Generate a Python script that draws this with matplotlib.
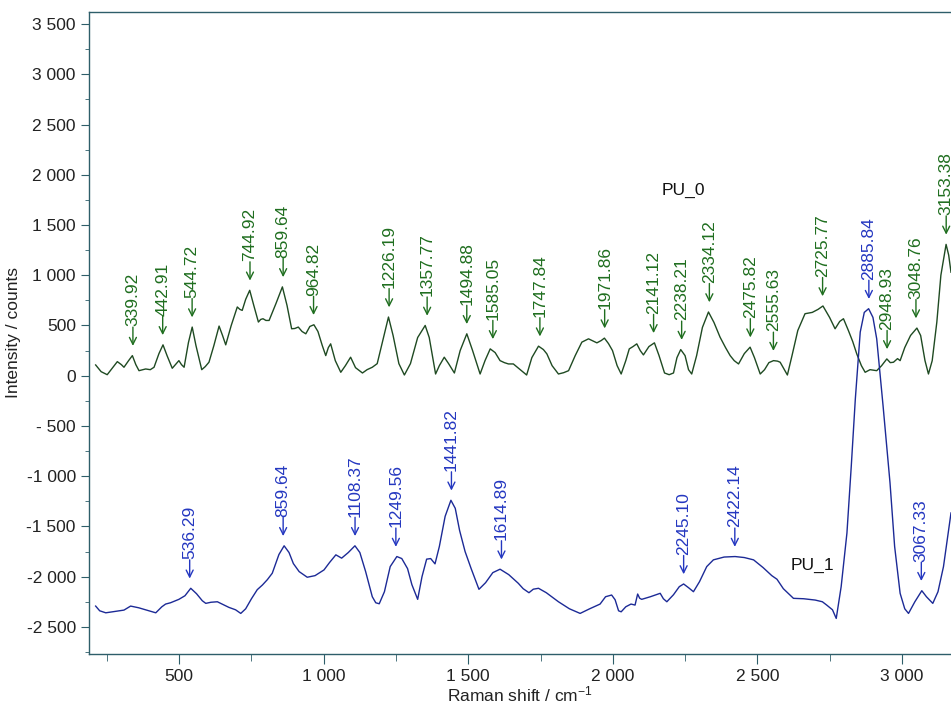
import numpy as np
import matplotlib
matplotlib.use("Agg")
import matplotlib.pyplot as plt
from matplotlib.ticker import MultipleLocator, FuncFormatter

plt.rcParams['font.family'] = ['Liberation Sans', 'DejaVu Sans']
plt.rcParams['mathtext.fontset'] = 'custom'
plt.rcParams['mathtext.rm'] = 'Liberation Sans'
plt.rcParams['mathtext.it'] = 'Liberation Sans:italic'

# PU_0 spectrum (Raman shift, counts)
pu0_x = [211, 230, 251, 270, 286, 300, 309, 325, 338, 350, 361, 384, 400, 413,
         430, 444, 458, 476, 490, 499, 508, 517, 532, 545, 558, 578, 590, 603,
         620, 638, 650, 661, 680, 701, 710, 718, 730, 744, 758, 774, 782, 790,
         800, 811, 835, 857, 873, 889, 900, 912, 925, 938, 952, 966, 980, 995,
         1007, 1016, 1024, 1040, 1059, 1075, 1093, 1110, 1134, 1150, 1168, 1185,
         1200, 1224, 1240, 1260, 1279, 1300, 1325, 1351, 1365, 1387, 1400, 1417,
         1432, 1452, 1472, 1495, 1515, 1541, 1558, 1576, 1593, 1610, 1625, 1639,
         1656, 1680, 1702, 1720, 1743, 1760, 1772, 1790, 1812, 1830, 1847, 1870,
         1893, 1916, 1945, 1960, 1971, 1985, 1999, 2015, 2029, 2045, 2057, 2070,
         2083, 2095, 2106, 2125, 2144, 2160, 2179, 2195, 2210, 2222, 2235, 2250,
         2262, 2273, 2290, 2310, 2331, 2350, 2371, 2390, 2406, 2420, 2435, 2455,
         2475, 2490, 2510, 2525, 2540, 2556, 2570, 2579, 2604, 2620, 2640, 2665,
         2690, 2710, 2727, 2750, 2769, 2785, 2798, 2815, 2830, 2844, 2860, 2873,
         2890, 2913, 2930, 2948, 2960, 2971, 2985, 2994, 3010, 3030, 3052, 3065,
         3080, 3092, 3105, 3121, 3135, 3153, 3162, 3170]
pu0_y = [107, 40, 10, 80, 140, 110, 84, 150, 200, 110, 50, 67, 60, 84,
         220, 307, 200, 74, 120, 150, 110, 84, 330, 484, 300, 60, 90, 134,
         300, 494, 400, 307, 500, 684, 660, 650, 760, 850, 700, 534, 560, 567,
         550, 550, 720, 884, 700, 467, 470, 484, 440, 417, 490, 507, 440, 300,
         200, 280, 317, 150, 34, 100, 184, 80, 27, 60, 84, 120,
         300, 584, 400, 120, 7, 120, 380, 500, 380, 17, 100, 184,
         120, 27, 250, 417, 250, 17, 150, 267, 230, 150, 130, 117,
         117, 60, 7, 180, 294, 260, 217, 100, 17, 30, 50, 200,
         334, 367, 327, 350, 374, 320, 250, 100, 17, 150, 267, 290,
         317, 250, 207, 290, 327, 200, 27, 10, 27, 180, 260, 200,
         60, 17, 200, 480, 634, 530, 384, 280, 200, 150, 117, 220,
         284, 180, 17, 60, 130, 150, 145, 134, 7, 200, 450, 617,
         630, 660, 694, 580, 467, 540, 567, 450, 340, 217, 100, 34,
         60, 50, 100, 167, 130, 134, 170, 150, 280, 400, 474, 400,
         150, 17, 150, 534, 1000, 1307, 1200, 1030]

# PU_1 spectrum (offset downwards)
pu1_x = [211, 225, 246, 280, 309, 332, 360, 390, 419, 440, 453, 470, 499, 520,
         540, 560, 580, 592, 610, 632, 650, 672, 695, 713, 730, 750, 770, 788,
         805, 822, 845, 863, 880, 895, 915, 943, 970, 1001, 1020, 1042, 1062,
         1085, 1108, 1125, 1145, 1168, 1180, 1192, 1210, 1230, 1253, 1270, 1290,
         1305, 1325, 1340, 1356, 1370, 1385, 1400, 1420, 1440, 1455, 1470, 1489,
         1510, 1537, 1560, 1585, 1610, 1640, 1673, 1690, 1710, 1725, 1743, 1770,
         1812, 1850, 1887, 1920, 1956, 1975, 1996, 2008, 2020, 2029, 2045, 2063,
         2077, 2086, 2093, 2100, 2130, 2164, 2175, 2187, 2210, 2230, 2245, 2262,
         2279, 2300, 2325, 2348, 2385, 2423, 2455, 2487, 2520, 2550, 2568, 2590,
         2625, 2660, 2700, 2725, 2740, 2760, 2773, 2790, 2810, 2825, 2839, 2856,
         2870, 2885, 2900, 2913, 2935, 2959, 2975, 2994, 3010, 3023, 3045, 3069,
         3085, 3107, 3125, 3144, 3170]
pu1_y = [-2293, -2340, -2360, -2345, -2333, -2293, -2310, -2335, -2360, -2300,
         -2273, -2260, -2226, -2190, -2116, -2170, -2240, -2266, -2255, -2250,
         -2275, -2306, -2330, -2366, -2320, -2220, -2130, -2083, -2030, -1966,
         -1780, -1693, -1760, -1870, -1950, -2006, -1990, -1933, -1860, -1783,
         -1816, -1760, -1693, -1760, -1950, -2200, -2260, -2270, -2150, -1900,
         -1800, -1820, -1920, -2080, -2226, -2000, -1826, -1820, -1873, -1700,
         -1400, -1240, -1320, -1540, -1750, -1920, -2126, -2060, -1960, -1926,
         -1980, -2066, -2120, -2160, -2125, -2116, -2160, -2250, -2320, -2366,
         -2320, -2273, -2200, -2183, -2230, -2340, -2350, -2300, -2273, -2283,
         -2173, -2215, -2226, -2200, -2166, -2220, -2250, -2180, -2100, -2073,
         -2110, -2150, -2050, -1900, -1833, -1805, -1800, -1810, -1833, -1910,
         -1990, -2026, -2120, -2216, -2220, -2233, -2250, -2283, -2330, -2416,
         -2100, -1566, -900, -233, 434, 630, 667, 580, 367, -300, -1066, -1700,
         -2166, -2320, -2366, -2250, -2140, -2200, -2266, -2150, -1900, -1366]

pu0_peaks = [339.92, 442.91, 544.72, 744.92, 859.64, 964.82, 1226.19, 1357.77,
             1494.88, 1585.05, 1747.84, 1971.86, 2141.12, 2238.21, 2334.12,
             2475.82, 2555.63, 2725.77, 2948.93, 3048.76, 3153.38]
pu1_peaks = [536.29, 859.64, 1108.37, 1249.56, 1441.82, 1614.89, 2245.10,
             2422.14, 2885.84, 3067.33]

green_line = '#1f4a22'
green_text = '#1f6e1f'
blue_line = '#1c2a96'
blue_text = '#2437c0'
spine_col = '#2e5e6a'


def tick_fmt(v, pos):
    s = f"{abs(v):,.0f}".replace(",", " ")
    if v < 0:
        return ("- " if abs(v) < 1000 else "-") + s
    return s


def peak_height(xs, ys, p):
    xs = np.array(xs)
    ys = np.array(ys)
    near = np.abs(xs - p) < 15
    if near.any():
        return ys[near].max()
    return np.interp(p, xs, ys)


def mark_peaks(ax, xs, ys, peaks, col):
    for p in peaks:
        h = peak_height(xs, ys, p)
        # arrow
        ax.annotate("", xy=(p, h), xytext=(0, 20.5), textcoords='offset points',
                    arrowprops=dict(arrowstyle='->,head_length=0.5,head_width=0.25',
                                    color=col, lw=1.0, shrinkA=0, shrinkB=7),
                    annotation_clip=False)
        # label
        ax.annotate(f"{p:.2f}", xy=(p, h), xytext=(0, 21), textcoords='offset points',
                    rotation=90, ha='center', va='bottom', color=col, fontsize=12.5,
                    annotation_clip=False)


fig = plt.figure(figsize=(9.51, 7.07), dpi=100)
ax = fig.add_axes([89 / 951, 1 - 654 / 707, 1 - 89 / 951, (654 - 12) / 707])

ax.plot(pu0_x, pu0_y, color=green_line, lw=1.0)
ax.plot(pu1_x, pu1_y, color=blue_line, lw=1.0)
mark_peaks(ax, pu0_x, pu0_y, pu0_peaks, green_text)
mark_peaks(ax, pu1_x, pu1_y, pu1_peaks, blue_text)

ax.text(2243, 1840, "PU_0", fontsize=12.5, ha='center', va='center', color='#111111')
ax.text(2690, -1890, "PU_1", fontsize=12.5, ha='center', va='center', color='#111111')

ax.set_xlim(188, 3170)
ax.set_ylim(-2770, 3620)
ax.xaxis.set_major_locator(MultipleLocator(500))
ax.xaxis.set_minor_locator(MultipleLocator(250))
ax.yaxis.set_major_locator(MultipleLocator(500))
ax.yaxis.set_minor_locator(MultipleLocator(250))
ax.xaxis.set_major_formatter(FuncFormatter(tick_fmt))
ax.yaxis.set_major_formatter(FuncFormatter(tick_fmt))

for side in ['left', 'bottom', 'top']:
    ax.spines[side].set_color(spine_col)
    ax.spines[side].set_linewidth(1.0)
ax.spines['right'].set_visible(False)
ax.tick_params(which='both', colors=spine_col, labelcolor='#222222', labelsize=12.5)
ax.tick_params(axis='x', which='major', length=7)
ax.tick_params(axis='x', which='minor', length=5)
ax.tick_params(axis='y', which='major', length=6)
ax.tick_params(axis='y', which='minor', length=3)

ax.set_xlabel("Raman shift / cm$^{-1}$", fontsize=12.5, color='#222222', labelpad=1)
ax.set_ylabel("Intensity / counts", fontsize=12.5, color='#222222')

fig.savefig("out.png", dpi=100)
